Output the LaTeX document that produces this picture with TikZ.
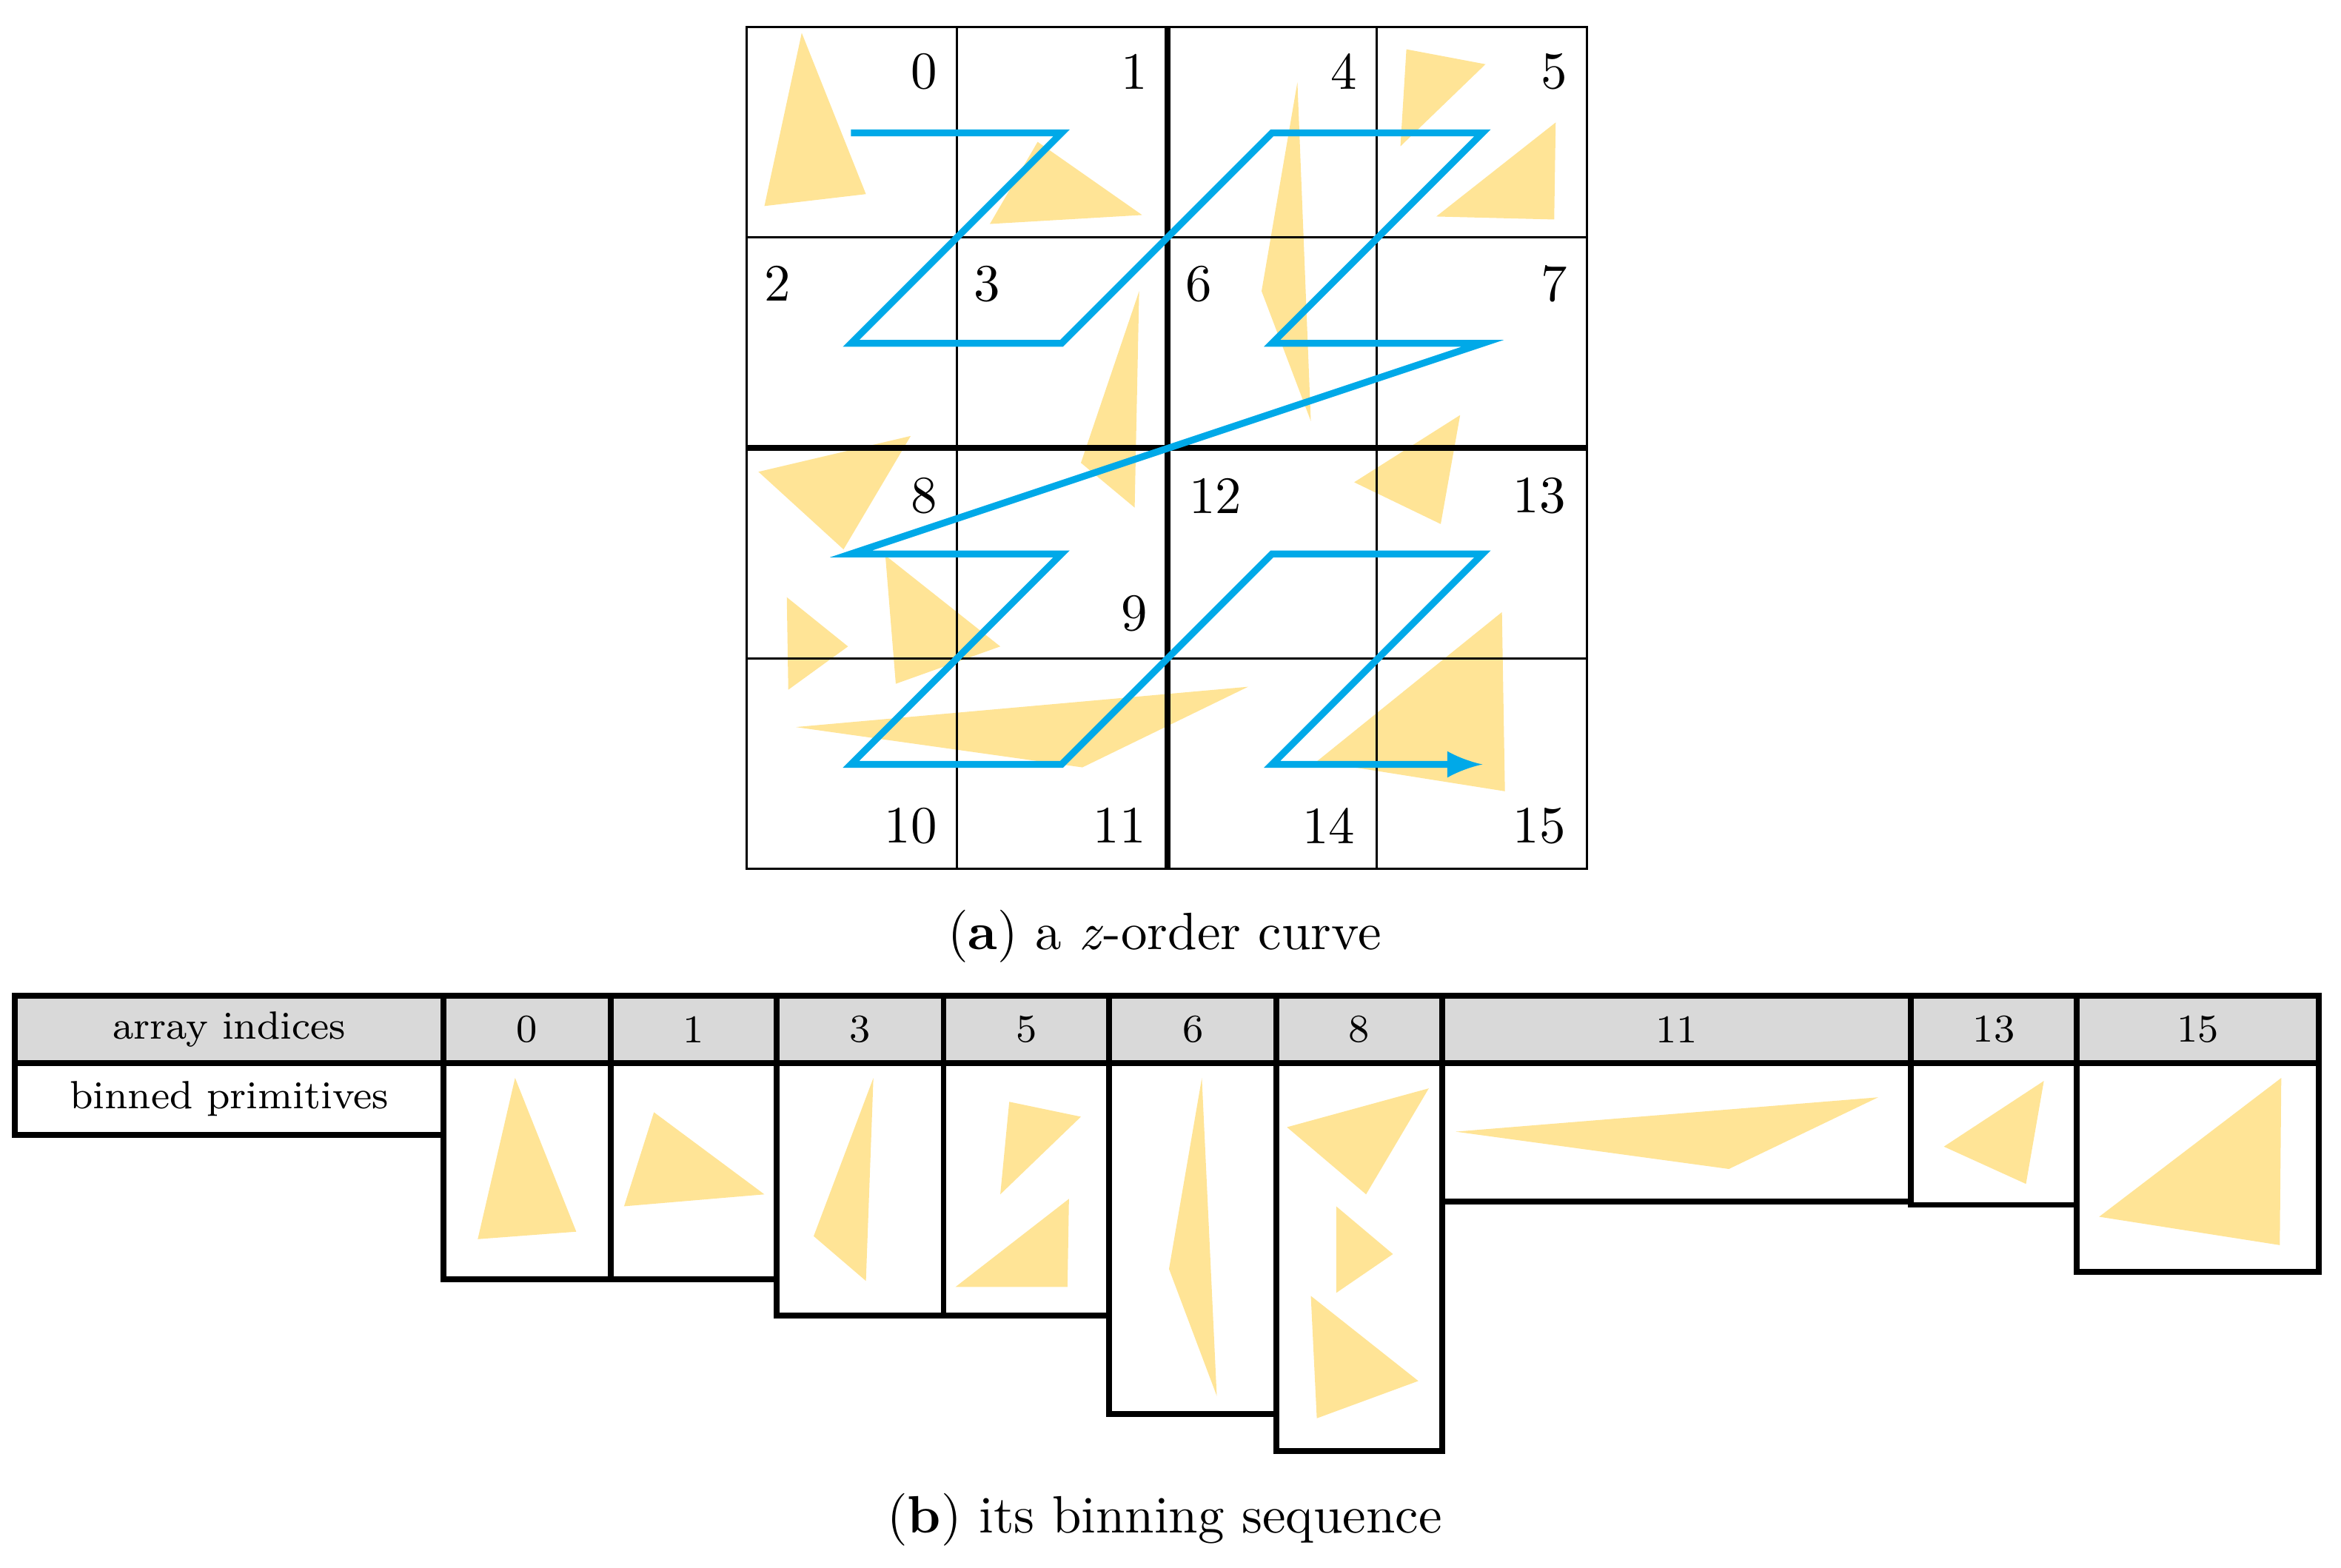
\documentclass[tikz,border=0pt]{standalone}
\begin{document}
\begin{tikzpicture}[x=0.01cm,y=-0.01cm,
  tri/.style={fill=yel,draw=none},
  num/.style={font=\fontsize{10}{12}\selectfont,inner sep=0pt},
  cell/.style={draw=black,line width=1.1pt},
  hdr/.style={cell,fill=hgray},
  ttxt/.style={font=\fontsize{7.5}{9}\selectfont,inner sep=0pt}]
\definecolor{yel}{RGB}{255,228,150}
\definecolor{zc}{RGB}{0,169,232}
\definecolor{hgray}{RGB}{217,217,217}
\useasboundingbox (0,0) rectangle (1568,1050);
% triangles in grid
\fill[tri] (537,22)--(512,138)--(580,130)--cycle;
\fill[tri] (663,150)--(765,144)--(695,95)--cycle;
\fill[tri] (869,55)--(845,195)--(878,282)--cycle;
\fill[tri] (942,33)--(995,43)--(938,98)--cycle;
\fill[tri] (1042,82)--(962,145)--(1041,147)--cycle;
\fill[tri] (763,195)--(724,310)--(760,340)--cycle;
\fill[tri] (508,316)--(610,292)--(565,368)--cycle;
\fill[tri] (527,400)--(568,433)--(528,462)--cycle;
\fill[tri] (593,372)--(670,433)--(600,458)--cycle;
\fill[tri] (533,487)--(836,460)--(725,514)--cycle;
\fill[tri] (978,278)--(907,323)--(965,351)--cycle;
\fill[tri] (1006,410)--(882,510)--(1008,530)--cycle;
% grid
\draw[line width=0.5pt] (500,18) rectangle (1063,582);
\foreach \x in {641,922} \draw[line width=0.5pt] (\x,18)--(\x,582);
\foreach \y in {159,441} \draw[line width=0.5pt] (500,\y)--(1063,\y);
\draw[line width=1.2pt] (782,18)--(782,582);
\draw[line width=1.2pt] (500,300)--(1063,300);
% numbers
\foreach \n/\x/\y in {0/619/48,1/760/48,4/900/48,5/1041/48,2/521/190,3/661/190,6/803/190,7/1041/190,8/619/332,12/814/332,13/1031/332,9/760/411,10/610/553,11/750/553,14/890/553,15/1031/553}
  \node[num] (n\n) at (\x,\y) {\n};
% curve
\foreach \i/\x/\y in {a/570/89,b/711/89,c/570/230,d/711/230,e/852/89,f/993/89,g/852/230,h/993/230,i/570/371,j/711/371,k/570/512,l/711/512,m/852/371,n/993/371,o/852/512,p/993/512}
  \coordinate (\i) at (\x,\y);
\draw[zc,line width=1.3pt,line join=miter,-latex] (a)--(b)--(c)--(d)--(e)--(f)--(g)--(h)--(i)--(j)--(k)--(l)--(m)--(n)--(o)--(p);
\node[font=\fontsize{10}{12}\selectfont] (capa) at (780,627) {(\textbf{a}) a \textit{z}-order curve};
% table
\draw[hdr] (10,667) rectangle node[ttxt] (h0) {array indices} (297,712);
\draw[cell] (10,712) rectangle node[ttxt] (h1) {binned primitives} (297,760);
\foreach \a/\b/\lab/\bot in {297/409/0/857,409/520/1/857,520/632/3/881,632/743/5/881,743/855/6/947,855/966/8/972,966/1280/11/805,1280/1391/13/807,1391/1553/15/852}{
  \draw[hdr] (\a,667) rectangle node[ttxt] (c\lab) {\lab} (\b,712);
  \draw[cell] (\a,712) rectangle (\b,\bot);
}
\fill[tri] (345,722)--(320,830)--(386,825)--cycle;
\fill[tri] (438,745)--(418,808)--(512,800)--cycle;
\fill[tri] (585,722)--(545,828)--(580,858)--cycle;
\fill[tri] (676,738)--(724,748)--(670,800)--cycle;
\fill[tri] (716,803)--(640,862)--(715,862)--cycle;
\fill[tri] (805,722)--(783,850)--(815,935)--cycle;
\fill[tri] (862,755)--(957,729)--(915,800)--cycle;
\fill[tri] (895,808)--(933,840)--(895,866)--cycle;
\fill[tri] (878,868)--(950,925)--(882,950)--cycle;
\fill[tri] (975,758)--(1258,735)--(1158,783)--cycle;
\fill[tri] (1369,724)--(1302,768)--(1357,793)--cycle;
\fill[tri] (1528,722)--(1406,815)--(1527,834)--cycle;
\node[font=\fontsize{10}{12}\selectfont] (capb) at (780,1018) {(\textbf{b}) its binning sequence};
\end{tikzpicture}
\end{document}
